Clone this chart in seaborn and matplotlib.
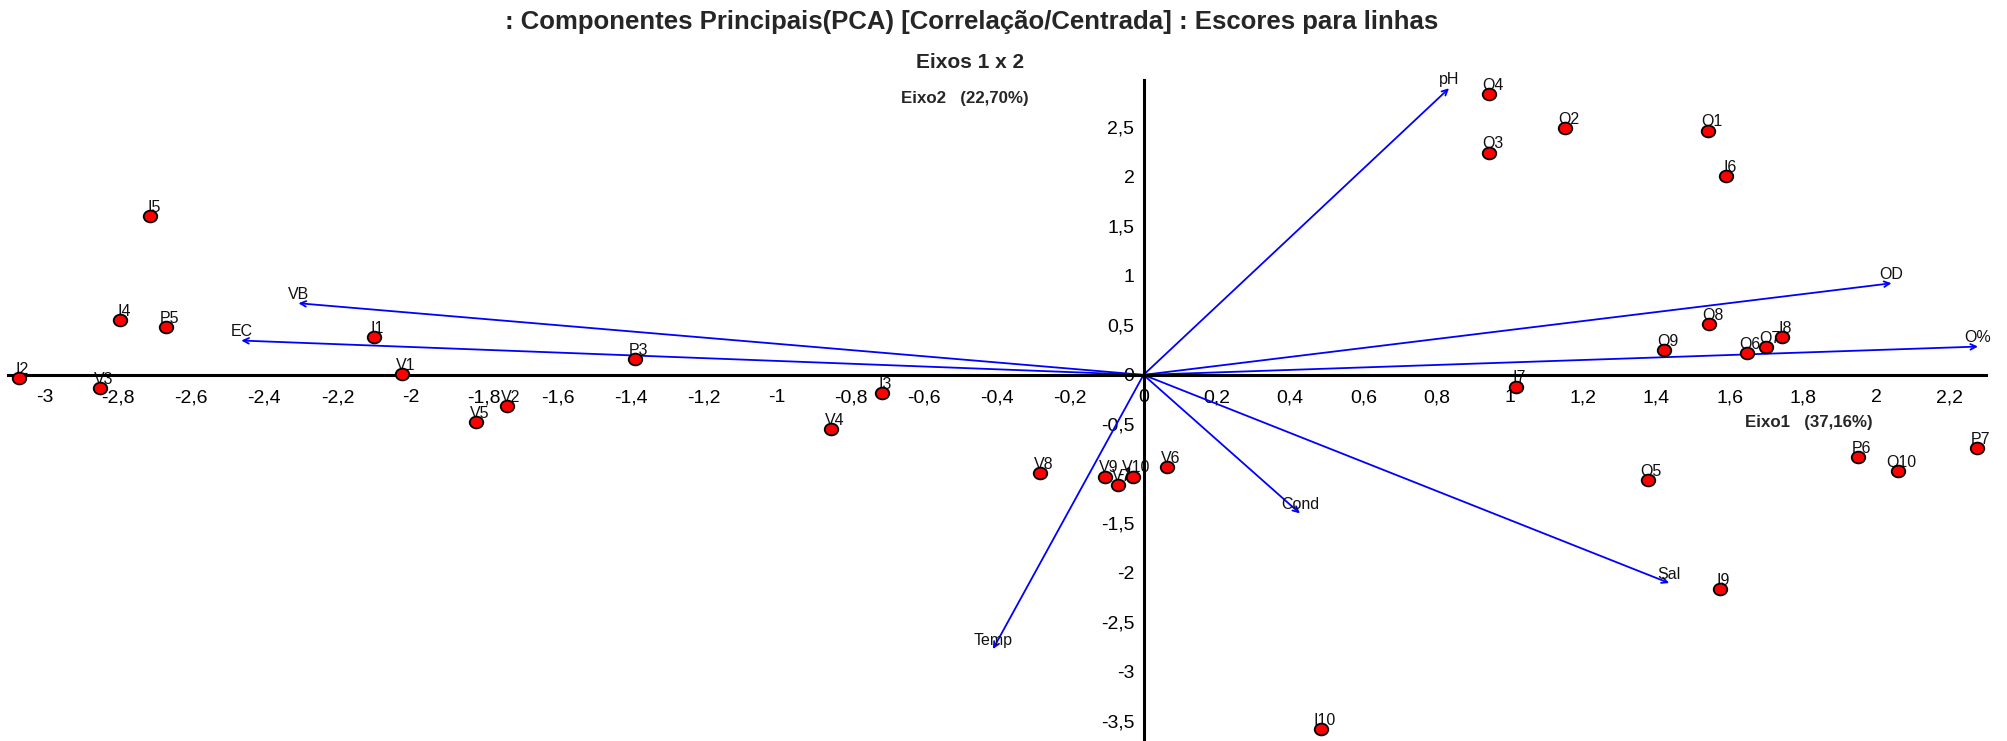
import matplotlib
matplotlib.use("Agg")
import matplotlib.pyplot as plt
from matplotlib.ticker import MultipleLocator, FuncFormatter
from matplotlib.path import Path
from matplotlib.transforms import Affine2D
import seaborn as sns
import pandas as pd

# ---- data ----
obs_names = ["Q1", "Q2", "Q3", "Q4", "Q5", "Q6", "Q7", "Q8", "Q9", "Q10",
             "I1", "I2", "I3", "I4", "I5", "I6", "I7", "I8", "I9", "I10",
             "V1", "V2", "V3", "V4", "V5", "V6", "V7", "V8", "V9", "V10",
             "P3", "P5", "P6", "P7"]
obs_axis1 = [1.541, 1.152, 0.944, 0.944, 1.376, 1.647, 1.700, 1.544, 1.422, 2.059,
             -2.102, -3.071, -0.714, -2.793, -2.711, 1.591, 1.016, 1.742, 1.573, 0.485,
             -2.024, -1.738, -2.848, -0.853, -1.823, 0.065, -0.070, -0.282, -0.104, -0.029,
             -1.388, -2.668, 1.951, 2.275]
obs_axis2 = [2.468, 2.498, 2.246, 2.835, -1.067, 0.219, 0.279, 0.515, 0.253, -0.976,
             0.380, -0.034, -0.185, 0.556, 1.606, 2.010, -0.118, 0.380, -2.165, -3.580,
             0.007, -0.313, -0.135, -0.549, -0.478, -0.933, -1.114, -0.993, -1.027, -1.027,
             0.158, 0.480, -0.832, -0.741]

var_names = ["pH", "OD", "O%", "VB", "EC", "Temp", "Cond", "Sal"]
var_axis1 = [0.834, 2.042, 2.278, -2.307, -2.463, -0.411, 0.427, 1.435]
var_axis2 = [2.896, 0.926, 0.286, 0.724, 0.347, -2.771, -1.400, -2.104]

title = ": Componentes Principais(PCA) [Correlação/Centrada] : Escores para linhas"
subtitle = "Eixos 1 x 2"
xlabel = "Eixo1   (37,16%)"
ylabel = "Eixo2   (22,70%)"

# ---- figure ----
W, H = 2008, 741
sns.set_style("white")
plt.rcParams["font.family"] = ["Liberation Sans", "DejaVu Sans"]

fig = plt.figure(figsize=(W / 100, H / 100), dpi=100)
ax = fig.add_axes([8 / W, 0, (1986 - 8) / W, (741 - 80) / H])

df = pd.DataFrame({"x": obs_axis1, "y": obs_axis2, "name": obs_names})

# arrows for variables
for n, vx, vy in zip(var_names, var_axis1, var_axis2):
    ax.annotate("", xy=(vx, vy), xytext=(0, 0),
                arrowprops=dict(arrowstyle="->", color="#0000ff", lw=1.3,
                                shrinkA=0, shrinkB=0, mutation_scale=10),
                zorder=2)
    ax.annotate(n, xy=(vx, vy), xytext=(0, 3), textcoords="offset points",
                ha="center", va="baseline", fontsize=11.5, color="#111111", zorder=2)

# observation labels (under markers)
for n, px, py in zip(obs_names, obs_axis1, obs_axis2):
    ax.annotate(n, xy=(px, py), xytext=(2.5, 3), textcoords="offset points",
                ha="center", va="baseline", fontsize=11.5, color="#111111", zorder=2)

ellipse = Path.unit_circle().transformed(Affine2D().scale(1.15, 1.0))
sns.scatterplot(data=df, x="x", y="y", ax=ax, color="#ff0000", edgecolor="black",
                linewidth=1.3, s=95, marker=ellipse, zorder=4, legend=False)

ax.set_xlim(-3.10, 2.30)
ax.set_ylim(-3.70, 2.98)

for side in ["top", "right"]:
    ax.spines[side].set_visible(False)
ax.spines["left"].set_position(("data", 0))
ax.spines["bottom"].set_position(("data", 0))
for side in ["left", "bottom"]:
    ax.spines[side].set_linewidth(2.2)
    ax.spines[side].set_color("black")
    ax.spines[side].set_zorder(3)

def fmt(v, pos):
    v = round(v, 2)
    if abs(v) < 1e-9:
        return "0"
    return f"{v:g}".replace(".", ",")

ax.xaxis.set_major_locator(MultipleLocator(0.2))
ax.xaxis.set_minor_locator(MultipleLocator(0.05))
ax.yaxis.set_major_locator(MultipleLocator(0.5))
ax.yaxis.set_minor_locator(MultipleLocator(0.1))
ax.xaxis.set_major_formatter(FuncFormatter(fmt))
ax.yaxis.set_major_formatter(FuncFormatter(fmt))
ax.tick_params(which="major", direction="out", length=4.5, width=1.4, color="#8a8a8a",
               labelsize=14, labelcolor="black")
ax.tick_params(which="minor", direction="out", length=2.5, width=1.0, color="#a8a8a8")
ax.tick_params(axis="x", which="major", pad=6)
ax.tick_params(axis="y", which="major", pad=2)
ax.set_xlabel("")
ax.set_ylabel("")
ax.grid(False)

fig.text(972 / W, 1 - 22 / H, title, ha="center", va="center", fontsize=18.5, fontweight="bold")
fig.text(970 / W, 1 - 62 / H, subtitle, ha="center", va="center", fontsize=15, fontweight="bold")
fig.text(1029 / W, 1 - 98 / H, ylabel, ha="right", va="center", fontsize=12.2, fontweight="bold")
fig.text(1873 / W, 1 - 422 / H, xlabel, ha="right", va="center", fontsize=12.2, fontweight="bold")

fig.savefig("out.png", dpi=100)
